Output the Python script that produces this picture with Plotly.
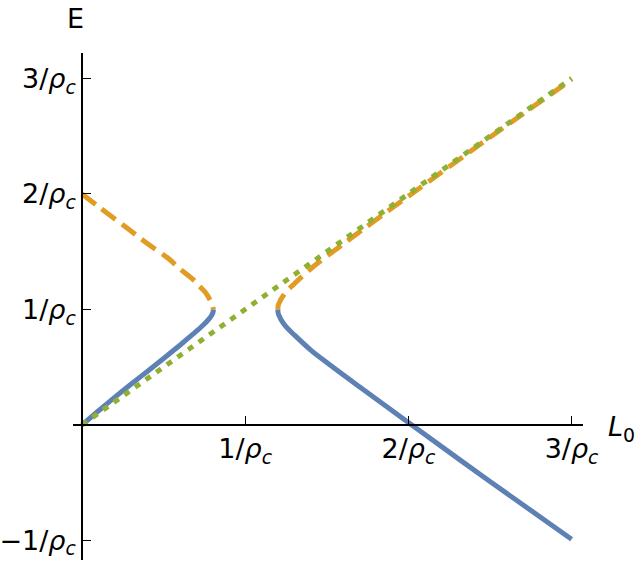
import plotly.graph_objects as go

# values (units of 1/rho_c)
blue_left_x = [0.0, 0.1, 0.2, 0.3, 0.4, 0.5, 0.6, 0.68, 0.74, 0.78, 0.795, 0.803, 0.805]
blue_left_y = [0.0, 0.12, 0.238, 0.352, 0.463, 0.575, 0.69, 0.785, 0.86, 0.92, 0.95, 0.975, 1.0]
orange_left_x = [0.0, 0.11, 0.28, 0.40, 0.53, 0.60, 0.68, 0.72, 0.76, 0.785, 0.798, 0.805]
orange_left_y = [2.0, 1.88, 1.70, 1.57, 1.44, 1.35, 1.26, 1.20, 1.14, 1.08, 1.04, 1.0]

right_x = [1.2, 1.202, 1.205, 1.21, 1.22, 1.25, 1.3, 1.4, 1.5, 1.7, 2.0, 2.5, 3.0]
blue_right_y = [1.0, 0.97, 0.955, 0.94, 0.91, 0.85, 0.78, 0.65, 0.54, 0.33, 0.02, -0.49, -0.99]
orange_right_y = [1.0, 1.03, 1.045, 1.06, 1.09, 1.15, 1.22, 1.35, 1.46, 1.67, 1.98, 2.49, 2.99]

green_x = [0.0, 3.0]
green_y = [0.0, 3.0]

x_ticks = [1, 2, 3]
x_ticktext = ["1/<i>ρ</i><sub><i>c</i></sub>", "2/<i>ρ</i><sub><i>c</i></sub>", "3/<i>ρ</i><sub><i>c</i></sub>"]
y_ticks = [-1, 1, 2, 3]
y_ticktext = ["−1/<i>ρ</i><sub><i>c</i></sub>", "1/<i>ρ</i><sub><i>c</i></sub>",
              "2/<i>ρ</i><sub><i>c</i></sub>", "3/<i>ρ</i><sub><i>c</i></sub>"]

BLUE = "#5E81B5"
ORANGE = "#E19C24"
GREEN = "#8FB032"

xr = [-0.055, 3.07]
yr = [-1.17, 3.22]

fig = go.Figure()
fig.add_trace(go.Scatter(x=blue_left_x, y=blue_left_y, mode="lines",
                         line=dict(color=BLUE, width=5, shape="spline")))
fig.add_trace(go.Scatter(x=right_x, y=blue_right_y, mode="lines",
                         line=dict(color=BLUE, width=5, shape="spline")))
fig.add_trace(go.Scatter(x=orange_left_x, y=orange_left_y, mode="lines",
                         line=dict(color=ORANGE, width=5, shape="spline", dash="17px,8px")))
fig.add_trace(go.Scatter(x=right_x, y=orange_right_y, mode="lines",
                         line=dict(color=ORANGE, width=5, shape="spline", dash="17px,8px")))
fig.add_trace(go.Scatter(x=green_x, y=green_y, mode="lines",
                         line=dict(color=GREEN, width=5, dash="6px,7px")))

fig.update_xaxes(range=xr, showgrid=False, zeroline=False, showline=True, linecolor="black",
                 linewidth=1.5, anchor="free", position=(0 - yr[0]) / (yr[1] - yr[0]),
                 ticks="inside", ticklen=8, tickwidth=1.3, tickcolor="black",
                 tickvals=x_ticks, ticktext=x_ticktext, automargin=False)
fig.update_yaxes(range=yr, showgrid=False, zeroline=False, showline=True, linecolor="black",
                 linewidth=1.5, anchor="free", position=(0 - xr[0]) / (xr[1] - xr[0]),
                 ticks="inside", ticklen=8, tickwidth=1.3, tickcolor="black",
                 tickvals=y_ticks, ticktext=y_ticktext, automargin=False)

# axis names
fig.add_annotation(x=0.004, y=1.069, text="E", showarrow=False, xref="paper", yref="paper",
                   xanchor="center", yanchor="middle", font=dict(size=27, color="black"))
fig.add_annotation(x=1.076, y=0.26, text="<i>L</i><sub>0</sub>", showarrow=False,
                   xref="paper", yref="paper", xanchor="center", yanchor="middle",
                   font=dict(size=27, color="black"))

fig.update_layout(width=640, height=566, showlegend=False,
                  margin=dict(l=73, r=57, t=53, b=6),
                  plot_bgcolor="white", paper_bgcolor="white",
                  font=dict(family="DejaVu Sans", size=27, color="black"))
# drop the default 8px page margin so the figure sits at the window corner
fig.write_html("out.html", config={"displayModeBar": False},
               post_script="document.body.style.margin='0px';")
